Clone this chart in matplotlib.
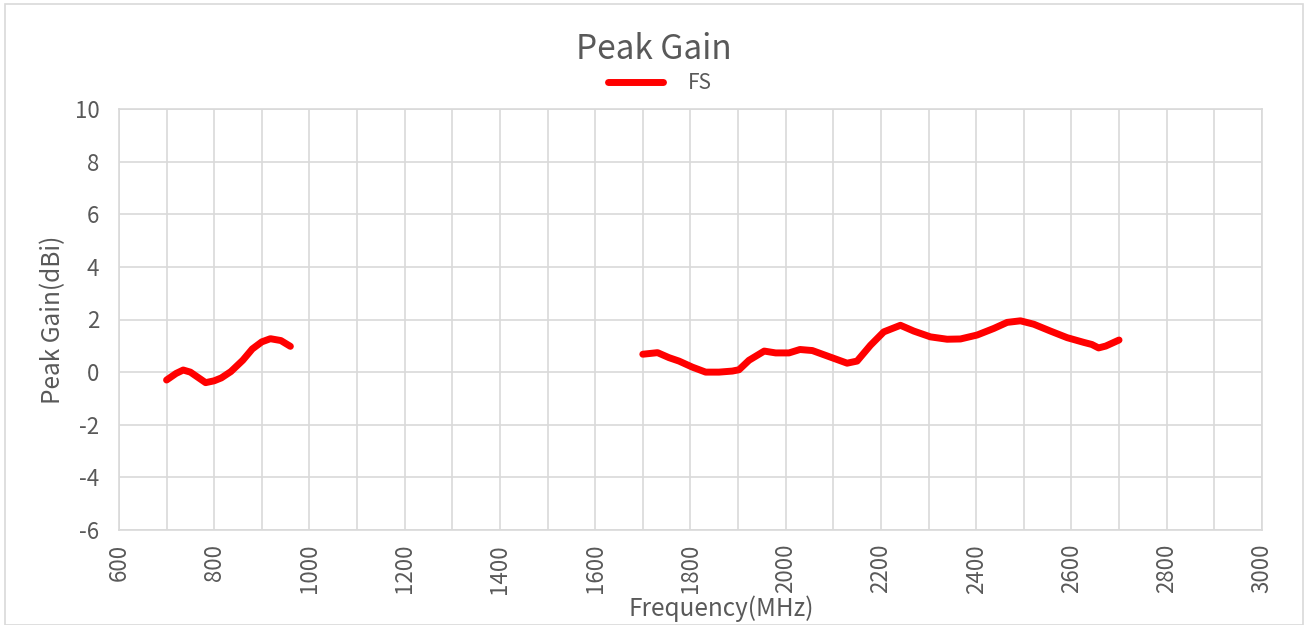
import numpy as np
import matplotlib
matplotlib.use("Agg")
import matplotlib.pyplot as plt
from matplotlib.patches import Rectangle

plt.rcParams['font.family'] = ['Noto Sans CJK SC', 'DejaVu Sans']
plt.rcParams['axes.unicode_minus'] = False

# band 1 (low)
freq_lo = [700, 720, 735, 750, 770, 782, 800, 815, 835, 860, 880, 900, 918, 940, 960]
gain_lo = [-0.30, -0.05, 0.08, 0.00, -0.25, -0.40, -0.33, -0.22, 0.02, 0.45, 0.88, 1.15, 1.27, 1.20, 0.98]

# band 2 (high)
freq_hi = [1700, 1731, 1755, 1776, 1804, 1832, 1860, 1888, 1902, 1923, 1955, 1979,
           2007, 2030, 2056, 2094, 2129, 2150, 2178, 2206, 2241, 2269, 2304, 2339,
           2367, 2402, 2437, 2465, 2493, 2521, 2556, 2591, 2626, 2643, 2657, 2672, 2700]
gain_hi = [0.68, 0.74, 0.55, 0.42, 0.19, 0.00, 0.00, 0.04, 0.09, 0.45, 0.80, 0.73,
           0.73, 0.86, 0.82, 0.57, 0.34, 0.42, 1.02, 1.53, 1.78, 1.56, 1.34, 1.25,
           1.26, 1.41, 1.66, 1.89, 1.95, 1.82, 1.56, 1.31, 1.13, 1.05, 0.92, 0.99, 1.22]

txt = '#595959'
grid = '#d9d9d9'

fig = plt.figure(figsize=(13.07, 6.25), dpi=100)
ax = fig.add_axes([0.091, 0.152, 0.8745, 0.6736])

# outer chart frame
fig.patches.append(Rectangle((5 / 1307, 0), 1298 / 1307, 621 / 625, transform=fig.transFigure,
                             fill=False, edgecolor=grid, linewidth=1.2))

ax.plot(freq_lo, gain_lo, color='#ff0000', lw=5, solid_capstyle='round',
        solid_joinstyle='round', label='FS')
ax.plot(freq_hi, gain_hi, color='#ff0000', lw=5, solid_capstyle='round',
        solid_joinstyle='round')

ax.set_xlim(600, 3000)
ax.set_ylim(-6, 10)
ax.set_xticks(np.arange(600, 3001, 200))
ax.set_xticks(np.arange(600, 3001, 100), minor=True)
ax.set_yticks(np.arange(-6, 11, 2))
ax.grid(True, which='both', color=grid, lw=1.2)
ax.set_axisbelow(True)
for s in ax.spines.values():
    s.set_color(grid)
    s.set_linewidth(1.2)
ax.tick_params(which='both', length=0, colors=txt, labelsize=16)
ax.tick_params(axis='x', rotation=90, pad=10)
ax.tick_params(axis='y', pad=14)

ax.set_xlabel('Frequency(MHz)', color=txt, fontsize=17.5, labelpad=1)
ax.xaxis.set_label_coords(0.527, -0.155)
ax.set_ylabel('Peak Gain(dBi)', color=txt, fontsize=17.5, labelpad=6)
fig.text(0.5, 0.921, 'Peak Gain', ha='center', va='center', color=txt, fontsize=24)
leg = ax.legend(loc='lower center', bbox_to_anchor=(0.4734, 0.99), frameon=False,
                fontsize=15, handlelength=2.6, handletextpad=1.2)
for t in leg.get_texts():
    t.set_color(txt)

fig.savefig('out.png', dpi=100)
